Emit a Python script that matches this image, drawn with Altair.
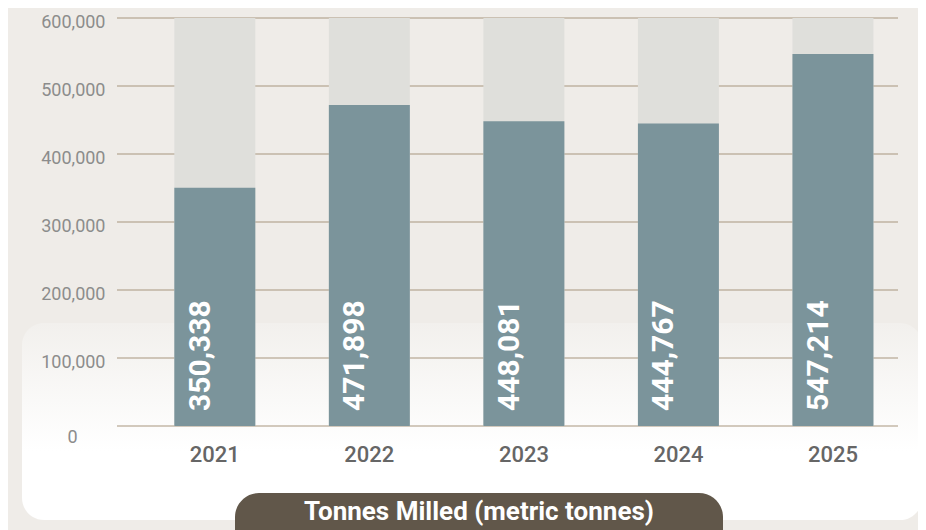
import altair as alt
import pandas as pd

years = ["2021", "2022", "2023", "2024", "2025"]
tonnes = [350338, 471898, 448081, 444767, 547214]
capacity = [600000, 600000, 600000, 600000, 600000]
tick_values = [0, 100000, 200000, 300000, 400000, 500000, 600000]
title_text = "Tonnes Milled (metric tonnes)"

df = pd.DataFrame({
    "year": years,
    "tonnes": tonnes,
    "capacity": capacity,
    "label": [f"{v:,}" for v in tonnes],
})
grid_df = pd.DataFrame({"value": tick_values})
one = pd.DataFrame({"k": [0]})

W, H = 781, 408
x_scale = alt.Scale(domain=years, paddingInner=0.476, paddingOuter=0.265, align=0.7)
y_scale = alt.Scale(domain=[0, 600000], nice=False, zero=True)

y_axis = alt.Axis(
    values=tick_values,
    format=",d",
    title=None,
    zindex=2,
    labelFont="Roboto",
    labelFontSize=18,
    labelColor="#8c8c8c",
    labelBaseline="middle",
    labelPadding={"condition": {"test": "datum.value === 0", "value": 40}, "value": 12},
    labelOffset={"condition": {"test": "datum.value === 0", "value": 11}, "value": 4},
)
x_axis = alt.Axis(
    title=None,
    zindex=2,
    labelAngle=0,
    labelFont="Roboto",
    labelFontSize=22,
    labelFontWeight=500,
    labelColor="#666666",
    labelPadding=18,
)

panel = alt.Chart(one).mark_rect(
    cornerRadius=22,
    color=alt.LinearGradient(
        gradient="linear",
        stops=[
            alt.GradientStop(color="#f2f0ed", offset=0),
            alt.GradientStop(color="#ffffff", offset=0.65),
            alt.GradientStop(color="#ffffff", offset=1),
        ],
        x1=0, x2=0, y1=0, y2=1,
    ),
).encode(x=alt.value(-95), x2=alt.value(805), y=alt.value(305), y2=alt.value(502))

grid = alt.Chart(grid_df).mark_rule(color="#a8957f", strokeWidth=1.2).encode(
    y=alt.Y("value:Q", scale=y_scale, axis=y_axis),
    x=alt.value(0),
    x2=alt.value(W),
)

bg_bars = alt.Chart(df).mark_bar(color="#dfdfdb").encode(
    x=alt.X("year:N", scale=x_scale, axis=x_axis),
    y=alt.Y("capacity:Q", scale=y_scale, axis=y_axis),
)

bars = alt.Chart(df).mark_bar(color="#7b949b").encode(
    x=alt.X("year:N", scale=x_scale, axis=x_axis),
    y=alt.Y("tonnes:Q", scale=y_scale, axis=y_axis),
)

labels = alt.Chart(df).mark_text(
    angle=270, align="left", baseline="middle", font="Roboto",
    fontSize=30, fontWeight="bold", color="white", xOffset=-14, yOffset=-15,
).encode(
    x=alt.X("year:N", scale=x_scale, axis=x_axis),
    y=alt.datum(0, axis=y_axis, scale=y_scale),
    text="label:N",
)

pill = alt.Chart(one).mark_rect(cornerRadius=24, color="#61574a").encode(
    x=alt.value(118), x2=alt.value(606), y=alt.value(475), y2=alt.value(540)
)
pill_text = alt.Chart(one).mark_text(
    font="Roboto", fontSize=26, fontWeight="bold", color="white",
    align="center", baseline="middle",
).encode(x=alt.value(362), y=alt.value(494), text=alt.value(title_text))

chart = alt.layer(panel, grid, bg_bars, bars, labels, pill, pill_text).properties(
    width=W,
    height=H,
    autosize=alt.AutoSizeParams(type="none"),
    padding={"left": 109, "top": 10, "right": 20, "bottom": 104},
    background="#efece8",
).configure_view(stroke=None).configure_axis(grid=False, domain=False, ticks=False)

chart.save("out.html", embed_options={"renderer": "svg", "actions": False})
